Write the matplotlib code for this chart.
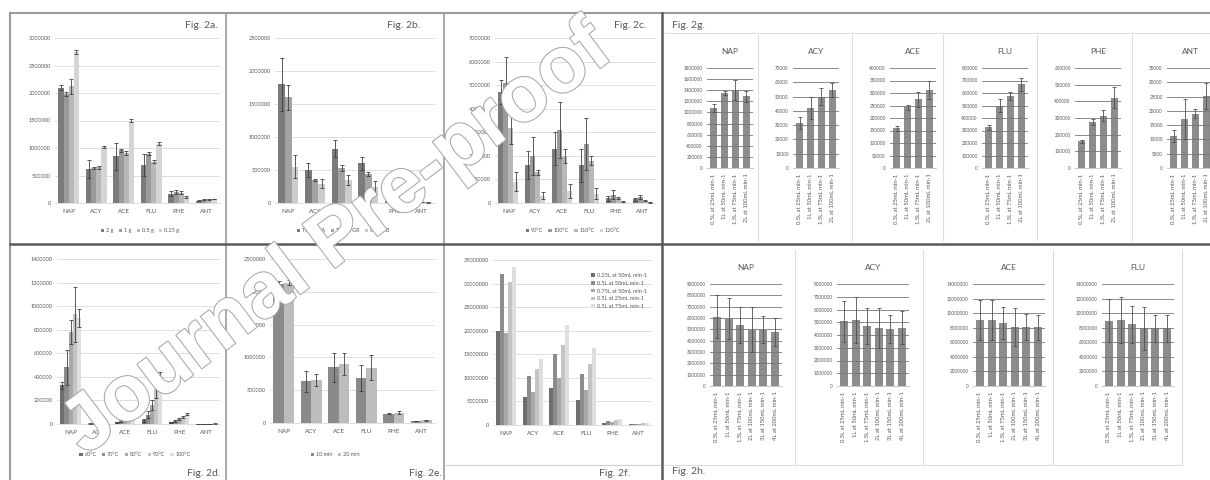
import numpy as np
import matplotlib.pyplot as plt
from matplotlib.lines import Line2D
import matplotlib.patheffects as pe

plt.rcParams['font.family'] = ['Lato', 'DejaVu Sans']

W, H = 1210, 480
TXT = '#595959'

pah = ['NAP', 'ACY', 'ACE', 'FLU', 'PHE', 'ANT']

# Fig. 2a - sorbent mass
a_names = ['2 g', '1 g', '0.5 g', '0.25 g']
a_vals = [[2100000, 620000, 850000, 690000, 170000, 40000],
          [1980000, 640000, 960000, 900000, 200000, 60000],
          [2120000, 650000, 910000, 750000, 190000, 70000],
          [2750000, 1020000, 1500000, 1080000, 110000, 70000]]
a_errs = [[50000, 170000, 250000, 200000, 40000, 10000],
          [30000, 20000, 30000, 30000, 30000, 10000],
          [130000, 30000, 30000, 30000, 30000, 10000],
          [40000, 20000, 30000, 30000, 10000, 5000]]

# Fig. 2b - sorbent type
b_names = ['Tenax TA', 'Tenax GR', 'Carbo B']
b_vals = [[1800000, 500000, 820000, 600000, 50000, 20000],
          [1600000, 350000, 530000, 440000, 40000, 15000],
          [550000, 290000, 350000, 240000, 15000, 8000]]
b_errs = [[400000, 100000, 130000, 100000, 10000, 5000],
          [190000, 20000, 40000, 30000, 10000, 5000],
          [170000, 70000, 70000, 100000, 5000, 3000]]

# Fig. 2c - temperature
c_names = ['90°C', '100°C', '110°C', '120°C']
c_vals = [[4700000, 1600000, 2300000, 1600000, 200000, 150000],
          [5100000, 2000000, 3100000, 2500000, 350000, 250000],
          [3200000, 1300000, 2000000, 1800000, 200000, 100000],
          [900000, 300000, 500000, 400000, 50000, 30000]]
c_errs = [[500000, 600000, 700000, 700000, 100000, 50000],
          [1100000, 800000, 1200000, 1100000, 200000, 80000],
          [700000, 100000, 300000, 200000, 50000, 30000],
          [400000, 150000, 300000, 250000, 20000, 10000]]

# Fig. 2d - temperature
d_names = ['60°C', '70°C', '80°C', '90°C', '100°C']
d_vals = [[330000, 4000, 15000, 30000, 15000, 1000],
          [480000, 5000, 25000, 80000, 25000, 1500],
          [780000, 6000, 40000, 160000, 40000, 2000],
          [930000, 8000, 60000, 300000, 60000, 3000],
          [900000, 9000, 62000, 420000, 85000, 4000]]
d_errs = [[30000, 1000, 3000, 10000, 3000, 500],
          [150000, 1000, 5000, 30000, 5000, 500],
          [100000, 1000, 8000, 40000, 8000, 500],
          [230000, 2000, 10000, 80000, 10000, 1000],
          [80000, 2000, 10000, 20000, 10000, 1000]]

# Fig. 2e - time
e_names = ['10 min', '20 min']
e_vals = [[2120000, 640000, 850000, 690000, 140000, 30000],
          [2140000, 650000, 900000, 840000, 160000, 40000]]
e_errs = [[50000, 160000, 220000, 200000, 10000, 5000],
          [40000, 90000, 170000, 190000, 20000, 5000]]

# Fig. 2f - sampling volume / flow
f_names = ['0.25L at 50mL min-1', '0.5L at 50mL min-1', '0.75L at 50mL min-1',
           '0.5L at 25mL min-1', '0.5L at 75mL min-1']
f_vals = [[20000000, 5860000, 7860000, 5200000, 500000, 200000],
          [32000000, 10400000, 15100000, 10900000, 800000, 300000],
          [19500000, 7000000, 10000000, 7400000, 600000, 250000],
          [30300000, 11800000, 16900000, 13000000, 1000000, 400000],
          [33600000, 14100000, 21300000, 16400000, 1200000, 500000]]

# Fig. 2g
g_labels = ['0.5L at 25mL min-1', '1L at 50mL min-1', '1.5L at 75mL min-1', '2L at 100mL min-1']
g_vals = {'NAP': [1080000, 1350000, 1410000, 1290000],
          'ACY': [31500, 42000, 50000, 54800],
          'ACE': [160000, 243000, 276000, 313000],
          'FLU': [328000, 500000, 577000, 670000],
          'PHE': [161000, 276000, 315000, 423000],
          'ANT': [11250, 17000, 19000, 25300]}
g_errs = {'NAP': [70000, 40000, 180000, 100000],
          'ACY': [4000, 8000, 6000, 5000],
          'ACE': [10000, 10000, 30000, 35000],
          'FLU': [20000, 50000, 30000, 50000],
          'PHE': [10000, 20000, 35000, 65000],
          'ANT': [2000, 7000, 1500, 4500]}
g_axis = {'NAP': (1800000, 200000), 'ACY': (70000, 10000), 'ACE': (400000, 50000),
          'FLU': (800000, 100000), 'PHE': (600000, 100000), 'ANT': (35000, 5000)}

# Fig. 2h
h_labels = ['0.5L at 25mL min-1', '1L at 50mL min-1', '1.5L at 75mL min-1',
            '2L at 100mL min-1', '3L at 150mL min-1', '4L at 200mL min-1']
h_pah = ['NAP', 'ACY', 'ACE', 'FLU']
h_vals = {'NAP': [6100000, 5950000, 5400000, 4970000, 4970000, 4760000],
          'ACY': [5060000, 5200000, 4700000, 4550000, 4500000, 4570000],
          'ACE': [9070000, 9070000, 8600000, 8060000, 8060000, 8060000],
          'FLU': [8990000, 9070000, 8470000, 7900000, 7900000, 7900000]}
h_errs = {'NAP': [1900000, 1800000, 1600000, 2000000, 1200000, 1200000],
          'ACY': [1600000, 1800000, 1400000, 1600000, 1100000, 1300000],
          'ACE': [2800000, 2700000, 2200000, 2600000, 1800000, 1700000],
          'FLU': [2900000, 3100000, 2500000, 3000000, 1900000, 1800000]}
h_axis = {'NAP': (9000000, 1000000), 'ACY': (8000000, 1000000),
          'ACE': (14000000, 2000000), 'FLU': (14000000, 2000000)}

greys = {2: ['#8a8a8a', '#bdbdbd'],
         3: ['#7b7b7b', '#a3a3a3', '#cccccc'],
         4: ['#7b7b7b', '#9a9a9a', '#b8b8b8', '#d5d5d5'],
         5: ['#6e6e6e', '#8c8c8c', '#a8a8a8', '#c4c4c4', '#dedede']}

fig = plt.figure(figsize=(W / 100, H / 100), dpi=100)


def px_axes(x0, y0, x1, y1):
    return fig.add_axes([x0 / W, 1 - y1 / H, (x1 - x0) / W, (y1 - y0) / H])


def px_line(xs, ys, color='#9a9a9a', lw=1.0):
    fig.add_artist(Line2D([x / W for x in xs], [1 - y / H for y in ys], color=color, lw=lw))


def px_text(x, y, s, **kw):
    fig.text(x / W, 1 - y / H, s, color=TXT, **kw)


def grouped_panel(box, vals, errs, names, ymax, step, leg_xy, inside=False):
    ax = px_axes(*box)
    n = len(vals)
    width = 0.75 / n
    x = np.arange(len(pah))
    cols = greys[n]
    for i in range(n):
        pos = x - 0.375 + width * (i + 0.5)
        ax.bar(pos, vals[i], width, color=cols[i], label=names[i], zorder=2)
        if errs is not None:
            ax.errorbar(pos, vals[i], yerr=errs[i], fmt='none', ecolor='#3f3f3f',
                        elinewidth=0.6, capsize=1.2, capthick=0.6, zorder=3)
    ax.set_xlim(-0.5, len(pah) - 0.5)
    ax.set_ylim(0, ymax)
    ticks = np.arange(0, ymax + 1, step)
    ax.set_yticks(ticks)
    ax.set_yticklabels([str(int(t)) for t in ticks])
    ax.set_xticks(x)
    ax.set_xticklabels(pah)
    ax.tick_params(length=0, labelsize=4, colors=TXT, pad=3)
    ax.tick_params(axis='x', labelsize=4.5, pad=4)
    ax.grid(axis='y', color='#d9d9d9', lw=0.6, zorder=0)
    ax.set_axisbelow(True)
    for s in ax.spines.values():
        s.set_visible(False)
    ax.spines['bottom'].set_visible(True)
    ax.spines['bottom'].set_color('#d9d9d9')
    ax.spines['bottom'].set_linewidth(0.6)
    if inside:
        ax.legend(loc='upper right', bbox_to_anchor=(leg_xy[0] / W, 1 - leg_xy[1] / H),
                  bbox_transform=fig.transFigure, frameon=False, fontsize=4,
                  handlelength=0.6, handleheight=0.6, handletextpad=0.4,
                  labelspacing=0.5, labelcolor=TXT)
    else:
        ax.legend(loc='center', bbox_to_anchor=(leg_xy[0] / W, 1 - leg_xy[1] / H),
                  bbox_transform=fig.transFigure, frameon=False, fontsize=4,
                  ncol=n, handlelength=0.6, handleheight=0.6, handletextpad=0.3,
                  columnspacing=1.0, labelcolor=TXT)
    return ax


def single_panel(box, title, vals, errs, ymax, step, labels):
    ax = px_axes(*box)
    x = np.arange(len(vals))
    ax.bar(x, vals, 0.7, color='#8c8c8c', zorder=2)
    ax.errorbar(x, vals, yerr=errs, fmt='none', ecolor='#505050',
                elinewidth=0.6, capsize=1.2, capthick=0.6, zorder=4)
    ticks = np.arange(0, ymax + 1, step)
    for t in ticks[1:]:
        ax.axhline(t, color='#767676', lw=0.6, zorder=3)
    ax.set_xlim(-0.6, len(vals) - 0.4)
    ax.set_ylim(0, ymax)
    ax.set_yticks(ticks)
    ax.set_yticklabels([str(int(t)) for t in ticks])
    ax.set_xticks(x)
    ax.set_xticklabels(labels, rotation=90)
    ax.tick_params(length=0, labelsize=3.3, colors=TXT, pad=3)
    ax.tick_params(axis='x', labelsize=4.2, pad=4)
    for s in ax.spines.values():
        s.set_visible(False)
    ax.spines['bottom'].set_visible(True)
    ax.spines['bottom'].set_color('#bfbfbf')
    ax.spines['bottom'].set_linewidth(0.6)
    ax.set_title(title, fontsize=6, color=TXT, pad=10)
    return ax


# left six panels
grouped_panel((55, 38, 220, 203), a_vals, a_errs, a_names, 3000000, 500000, (140, 231))
grouped_panel((275, 38, 435, 203), b_vals, b_errs, b_names, 2500000, 500000, (343, 231))
grouped_panel((495, 38, 656, 203), c_vals, c_errs, c_names, 7000000, 1000000, (573, 231))
grouped_panel((57, 259, 220, 424), d_vals, d_errs, d_names, 1400000, 200000, (135, 455))
grouped_panel((270, 259, 435, 423), e_vals, e_errs, e_names, 2500000, 500000, (335, 455))
grouped_panel((493, 260, 652, 425), f_vals, None, f_names, 35000000, 5000000, (652, 268), inside=True)

# Fig. 2g
g_left = [707, 793, 890, 982, 1075, 1167]
for name, x0 in zip(pah, g_left):
    ymax, step = g_axis[name]
    single_panel((x0, 68, x0 + 46, 168), name, g_vals[name], g_errs[name], ymax, step, g_labels)

# Fig. 2h
h_left = [710, 837, 973, 1102]
for name, x0 in zip(h_pah, h_left):
    ymax, step = h_axis[name]
    single_panel((x0, 284, x0 + 72, 386), name, h_vals[name], h_errs[name], ymax, step, h_labels)

# frames
px_line([10, 1210], [13, 13], '#9a9a9a', 1.5)
px_line([10, 10], [13, 480], '#9a9a9a', 1.5)
px_line([226, 226], [13, 480], '#9a9a9a', 1.2)
px_line([444, 444], [13, 480], '#9a9a9a', 1.2)
px_line([662, 662], [13, 480], '#5a5a5a', 1.8)
px_line([10, 1210], [244, 244], '#5a5a5a', 1.8)
px_line([446, 660], [465, 465], '#d0d0d0', 0.8)
px_line([665, 1210], [33, 33], '#dcdcdc', 0.8)
for xs in [758, 852, 943, 1037, 1132]:
    px_line([xs, xs], [35, 240], '#dcdcdc', 0.8)
for xs in [795, 923, 1053, 1182]:
    px_line([xs, xs], [250, 465], '#dcdcdc', 0.8)
px_line([665, 1182], [465, 465], '#dcdcdc', 0.8)

# figure labels
px_text(218, 26, 'Fig. 2a.', fontsize=7.5, ha='right', va='center')
px_text(420, 26, 'Fig. 2b.', fontsize=7.5, ha='right', va='center')
px_text(646, 26, 'Fig. 2c.', fontsize=7.5, ha='right', va='center')
px_text(220, 473, 'Fig. 2d.', fontsize=7.5, ha='right', va='center')
px_text(442, 473, 'Fig. 2e.', fontsize=7.5, ha='right', va='center')
px_text(630, 473, 'Fig. 2f.', fontsize=7.5, ha='right', va='center')
px_text(672, 25, 'Fig. 2g.', fontsize=7.5, ha='left', va='center')
px_text(672, 472, 'Fig. 2h.', fontsize=7.5, ha='left', va='center')

# watermark
fig.text(338 / W, 1 - 240 / H, 'Journal Pre-proof', rotation=37, fontsize=57,
         fontweight='bold', color='white', ha='center', va='center',
         family='Liberation Sans',
         path_effects=[pe.withStroke(linewidth=1.5, foreground='#a8a8a8')], zorder=10)

fig.savefig('out.png', dpi=100, facecolor='white')
